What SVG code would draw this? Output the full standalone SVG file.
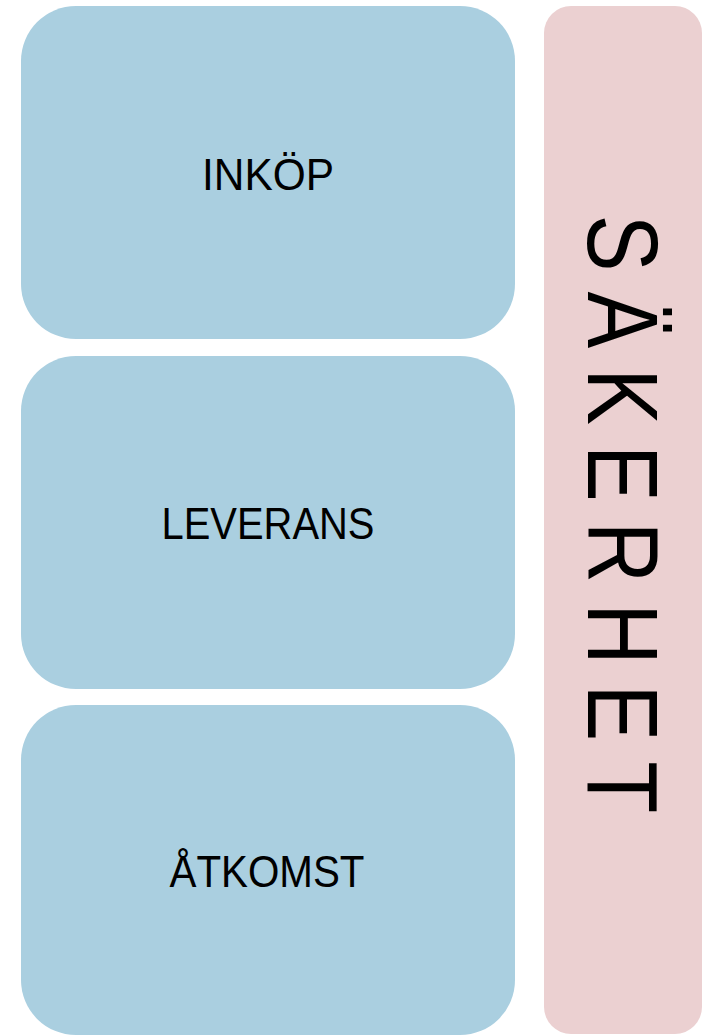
<svg xmlns="http://www.w3.org/2000/svg" width="702" height="1036" viewBox="0 0 702 1036">
  <style>
    .blue { fill: #AACFE0; }
    .pink { fill: #EBD0D1; }
    .lbl { font-family: "Liberation Sans", Arial, sans-serif; font-size: 44px; fill: #000; text-anchor: middle; }
    .side { font-family: "Liberation Sans", Arial, sans-serif; font-size: 100px; fill: #000; text-anchor: middle; }
  </style>
  <g id="inkop">
    <rect class="blue" x="21" y="6" width="494" height="333" rx="55" ry="55"/>
    <text class="lbl" x="268" y="190" textLength="132" lengthAdjust="spacingAndGlyphs">INKÖP</text>
  </g>
  <g id="leverans">
    <rect class="blue" x="21" y="356" width="494" height="333" rx="55" ry="55"/>
    <text class="lbl" x="268" y="539" textLength="213" lengthAdjust="spacingAndGlyphs">LEVERANS</text>
  </g>
  <g id="atkomst">
    <rect class="blue" x="21" y="705" width="494" height="330" rx="55" ry="55"/>
    <text class="lbl" x="267" y="887" textLength="195" lengthAdjust="spacingAndGlyphs">ÅTKOMST</text>
  </g>
  <g id="sakerhet">
    <rect class="pink" x="544" y="6" width="158" height="1028" rx="27" ry="27"/>
    <text class="side" transform="translate(588,514) rotate(90) scale(0.85,1)" x="0" y="0" textLength="704" lengthAdjust="spacing">SÄKERHET</text>
  </g>
  <g id="connectors"></g>
</svg>
